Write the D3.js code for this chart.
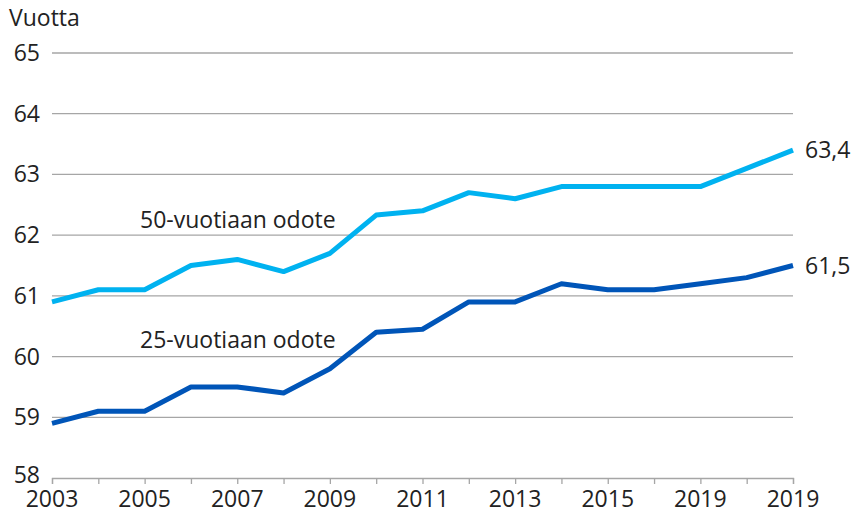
<!DOCTYPE html>
<html><head><meta charset="utf-8">
<script src="https://cdn.jsdelivr.net/npm/d3@7"></script>
<style>body{margin:0;background:#fff}svg{display:block}text{font-family:"Open Sans",sans-serif;fill:#222}</style>
</head><body><svg id="c" width="855" height="514"></svg>
<script>
const years = [2003,2004,2005,2006,2007,2008,2009,2010,2011,2012,2013,2014,2015,2016,2017,2018,2019];
const xTickLabels = ["2003","2005","2007","2009","2011","2013","2015","2019","2019"];
const yTicks = [58,59,60,61,62,63,64,65];
const odote50 = [60.9,61.1,61.1,61.5,61.6,61.4,61.7,62.33,62.4,62.7,62.6,62.8,62.8,62.8,62.8,63.1,63.4];
const odote25 = [58.9,59.1,59.1,59.5,59.5,59.4,59.8,60.4,60.45,60.9,60.9,61.2,61.1,61.1,61.2,61.3,61.5];
const seriesNames = ["50-vuotiaan odote","25-vuotiaan odote"];
const endLabels = ["63,4","61,5"];

const svg = d3.select("#c");
const x = d3.scaleLinear().domain([2003,2019]).range([52,793]);
const y = d3.scaleLinear().domain([58,65]).range([478,53]);
const fs = 23;

// grid
svg.append("g").selectAll("line").data(yTicks.slice(1)).join("line")
  .attr("x1",52).attr("x2",793).attr("y1",d=>y(d)).attr("y2",d=>y(d))
  .attr("stroke","#a6a6a6").attr("stroke-width",1.3);

// x axis
const xa = svg.append("g").attr("transform",`translate(0,${y(58)})`)
  .call(d3.axisBottom(x).tickValues(years).tickSize(6).tickFormat(""));
xa.select(".domain").attr("stroke","#a6a6a6").attr("stroke-width",1.3);
xa.selectAll(".tick line").attr("stroke","#a6a6a6").attr("stroke-width",1.3);
svg.append("g").selectAll("text").data(xTickLabels).join("text")
  .attr("x",(d,i)=>x(2003+2*i)).attr("y",507).attr("text-anchor","middle")
  .attr("font-size",fs).text(d=>d);

// y labels
svg.append("g").selectAll("text").data(yTicks).join("text")
  .attr("x",40).attr("y",d=>y(d)+(d===58?5:8)).attr("text-anchor","end")
  .attr("font-size",fs).text(d=>d);
svg.append("text").attr("x",9).attr("y",26).attr("font-size",fs).text("Vuotta");

const line = d3.line().x((d,i)=>x(years[i])).y(d=>y(d));
const colors = ["#00b2f0","#0055b8"];
[odote50,odote25].forEach((s,k)=>{
  svg.append("path").attr("d",line(s)).attr("fill","none")
    .attr("stroke",colors[k]).attr("stroke-width",5).attr("stroke-linejoin","round");
  svg.append("text").attr("x",805).attr("y",y(s[s.length-1])+8).attr("font-size",fs).text(endLabels[k]);
});
svg.append("text").attr("x",140).attr("y",228).attr("font-size",fs).text(seriesNames[0]);
svg.append("text").attr("x",140).attr("y",348).attr("font-size",fs).text(seriesNames[1]);
</script></body></html>
